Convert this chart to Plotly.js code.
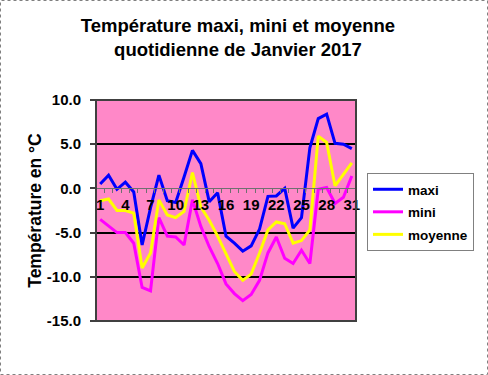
<!DOCTYPE html>
<html>
<head>
<meta charset="utf-8">
<script src="https://cdn.plot.ly/plotly-3.0.1.min.js"></script>
<style>html,body{margin:0;padding:0;background:#fff}</style>
</head>
<body>
<div id="chart" style="width:488px;height:375px"></div>
<script>
const days = [1,2,3,4,5,6,7,8,9,10,11,12,13,14,15,16,17,18,19,20,21,22,23,24,25,26,27,28,29,30,31];
const maxi = [0.5,1.5,-0.1,0.7,-0.4,-6.4,-2.2,1.5,-1.4,-1.6,1.3,4.3,2.8,-1.5,-0.5,-5.4,-6.2,-7.1,-6.5,-4.6,-0.9,-0.85,0.0,-4.5,-3.3,4.6,7.9,8.4,5.1,5.0,4.5];
const mini = [-3.5,-4.3,-5.0,-5.0,-6.2,-11.2,-11.6,-3.3,-5.4,-5.5,-6.4,-1.3,-4.3,-6.6,-8.5,-10.8,-11.9,-12.7,-12.0,-10.4,-7.3,-5.5,-7.9,-8.5,-7.0,-8.5,-0.1,0.1,-1.7,-1.0,1.4];
const moyenne = [-1.4,-1.2,-2.5,-2.5,-2.8,-9.0,-7.3,-1.3,-3.0,-3.3,-2.6,1.8,-2.1,-3.6,-5.4,-7.5,-9.4,-10.4,-9.7,-7.3,-4.7,-3.8,-4.0,-6.2,-5.9,-4.7,5.9,5.2,0.3,1.6,2.9];
const xTickVals = [1,4,7,10,13,16,19,22,25,28,31];
const xTickText = ['1','4','7','10','13','16','19','22','25','28','31'];
const yTickVals = [-15,-10,-5,0,5,10];
const yTickText = ['-15.0','-10.0','-5.0','0.0','5.0','10.0'];

const font = 'Liberation Sans, Arial, sans-serif';
function tr(y, name, color, g){
  return {x: days, y: y, name: name, type: 'scatter', mode: 'lines',
    line: {color: color, width: 3}, legendgroup: g};
}
const data = [tr(maxi,'maxi','#0000FF','a'), tr(mini,'mini','#FF00FF','b'), tr(moyenne,'moyenne','#FFFF00','c')];

const L = 96, R = 356, T = 100, B = 321, W = 488, H = 375;
const pw = R - L, ph = B - T;
const px = v => (v - L) / pw;
const py = v => (B - v) / ph;

const layout = {
  width: W, height: H,
  margin: {l: L, r: W - R, t: T, b: H - B, pad: 0},
  paper_bgcolor: '#ffffff',
  plot_bgcolor: '#FF88C8',
  showlegend: true,
  title: {text: '<b>Température maxi, mini et moyenne<br>quotidienne de Janvier 2017</b>',
    font: {family: font, size: 18.5, color: '#000'},
    xref: 'container', x: 238/488, xanchor: 'center',
    yref: 'container', y: 1 - 32/375, yanchor: 'top'},
  xaxis: {
    range: [0.5, 31.5], anchor: 'free', position: 0.6,
    tickvals: xTickVals, ticktext: xTickText, ticks: '',
    tickfont: {family: font, size: 15, color: '#000', weight: 'bold'},
    showgrid: false, zeroline: false,
    showline: true, linecolor: '#707070', linewidth: 1,
    minor: {tick0: 0.5, dtick: 1, ticks: 'outside', ticklen: 4, tickcolor: '#707070', showgrid: false},
    ticklabelstandoff: 3,
    fixedrange: true
  },
  yaxis: {
    range: [-15, 10], tickvals: yTickVals, ticktext: yTickText,
    ticks: 'outside', ticklen: 5, tickcolor: '#404040', tickwidth: 2,
    ticklabelstandoff: 6,
    tickfont: {family: font, size: 15, color: '#000', weight: 'bold'},
    showgrid: true, gridcolor: '#000000', gridwidth: 2,
    zeroline: true, zerolinecolor: '#707070', zerolinewidth: 1,
    showline: false,
    title: {text: '<b>Température en °C</b>', font: {family: font, size: 17.5, color: '#000'}, standoff: 0},
    fixedrange: true
  },
  legend: {
    x: px(367), xanchor: 'left', y: py(173), yanchor: 'top',
    bgcolor: '#ffffff', bordercolor: '#808080', borderwidth: 1,
    font: {family: font, size: 13.5, color: '#000', weight: 'bold'},
    traceorder: 'grouped', tracegroupgap: 2, itemwidth: 30
  },
  shapes: [
    {type: 'rect', xref: 'paper', yref: 'paper', x0: 0, x1: 1, y0: 0, y1: 1,
      line: {color: '#404040', width: 2}, layer: 'above'},
    {type: 'rect', xref: 'paper', yref: 'paper', x0: px(0.5), x1: px(487.5), y0: py(374.5), y1: py(0.5),
      line: {color: '#808080', width: 1, dash: 'dot'}, layer: 'above'}
  ]
};
Plotly.newPlot('chart', data, layout, {displayModeBar: false, staticPlot: true});
</script>
</body>
</html>
